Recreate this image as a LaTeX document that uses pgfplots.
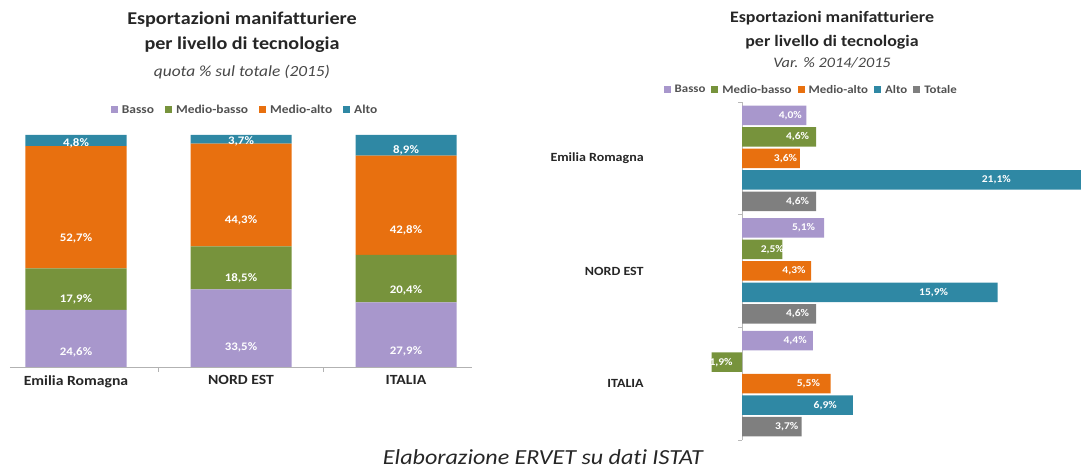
\documentclass[border=0pt]{standalone}
\usepackage{pgfplots}
\pgfplotsset{compat=1.18}
\usepackage{fontspec}
\setmainfont{Carlito}[FakeStretch=1.12, Ligatures=NoCommon]
\definecolor{cBasso}{HTML}{A897CC}
\definecolor{cMB}{HTML}{77933C}
\definecolor{cMA}{HTML}{E8700F}
\definecolor{cAlto}{HTML}{2F88A4}
\definecolor{cTot}{HTML}{7F7F7F}
\definecolor{txt}{HTML}{262626}
\begin{document}
\begin{tikzpicture}
\useasboundingbox (0pt,0pt) rectangle (1081pt,468pt);
% titles
\node[font=\bfseries\fontsize{18}{21}\selectfont, text=txt] at (242pt,448pt) {Esportazioni manifatturiere};
\node[font=\bfseries\fontsize{18}{21}\selectfont, text=txt] at (242pt,423pt) {per livello di tecnologia};
\node[font=\itshape\fontsize{15.5}{18}\selectfont, text=txt!85] at (242pt,396pt) {quota \% sul totale (2015)};
\node[font=\bfseries\fontsize{16}{19}\selectfont, text=txt] at (832pt,450pt) {Esportazioni manifatturiere};
\node[font=\bfseries\fontsize{16}{19}\selectfont, text=txt] at (832pt,426pt) {per livello di tecnologia};
\node[font=\itshape\fontsize{14.5}{17}\selectfont, text=txt!85] at (832pt,405pt) {Var. \% 2014/2015};
\node[font=\itshape\fontsize{21.5}{24}\selectfont, text=txt] at (543pt,11pt) {Elaborazione ERVET su dati ISTAT};

% left stacked chart
\begin{axis}[
  at={(10pt,101pt)}, anchor=south west, scale only axis,
  width=462pt, height=232pt,
  ybar stacked, bar width=101pt,
  xmin=-0.4, xmax=2.4, ymin=0, ymax=100,
  axis x line*=bottom, axis y line=none,
  x axis line style={draw=gray!60, line width=0.8pt},
  xtick={0,1,2}, xticklabels={Emilia Romagna,NORD EST,ITALIA},
  major tick length=0pt,
  extra x ticks={0.5,1.5}, extra x tick labels={},
  extra x tick style={major tick length=5pt, tick align=outside, tick style={draw=gray!60, line width=0.8pt}},
  xticklabel style={font=\bfseries\fontsize{14}{16}\selectfont, text=txt, yshift=-5pt},
  legend style={at={(0.509,1.108)}, anchor=center, draw=none, fill=none,
    font=\bfseries\fontsize{12}{14}\selectfont, text=txt!80,
    /tikz/every odd column/.append style={column sep=2pt},
    /tikz/every even column/.append style={column sep=9pt}},
  legend columns=-1,
  legend image code/.code={\fill[#1] (0pt,-3.5pt) rectangle (7pt,3.5pt);},
  visualization depends on={rawy \as \rawy},
  nodes near coords={\pgfmathprintnumber[fixed,fixed zerofill,precision=1,use comma,assume math mode=true]{\rawy}\%},
  every node near coord/.append style={anchor=center, yshift={-0.58pt*\rawy}, font=\bfseries\fontsize{11.5}{13}\selectfont, text=white},
]
\addplot[fill=cBasso, draw=none] coordinates {(0,24.6) (1,33.5) (2,27.9)};
\addplot[fill=cMB, draw=none] coordinates {(0,17.9) (1,18.5) (2,20.4)};
\addplot[fill=cMA, draw=none] coordinates {(0,52.7) (1,44.3) (2,42.8)};
\addplot[fill=cAlto, draw=none] coordinates {(0,4.8) (1,3.7) (2,8.9)};
\legend{Basso,Medio-basso,Medio-alto,Alto}
\end{axis}

% right horizontal bar chart
\begin{axis}[
  at={(694pt,28pt)}, anchor=south west, scale only axis,
  width=387pt, height=338pt,
  xbar, bar width=19.5pt,
  xmin=-3, xmax=21.1, ymin=-0.5, ymax=2.5,
  axis x line=none, axis y line=center,
  y axis line style={-, draw=gray!55, line width=0.8pt},
  xtick=\empty,
  ytick={0,1,2}, yticklabels={ITALIA,NORD EST,Emilia Romagna},
  major tick length=0pt,
  extra y ticks={-0.5,0.5,1.5,2.5}, extra y tick labels={},
  extra y tick style={major tick length=4pt, tick align=outside, tick style={draw=gray!55, line width=0.8pt}},
  yticklabel style={font=\bfseries\fontsize{12.5}{14}\selectfont, text=txt, anchor=east, xshift=-95pt},
  legend style={at={(0.303,1.036)}, anchor=center, draw=none, fill=none,
    font=\bfseries\fontsize{11.5}{13}\selectfont, text=txt!80,
    /tikz/every odd column/.append style={column sep=2pt},
    /tikz/every even column/.append style={column sep=4pt}},
  legend columns=-1,
  legend image code/.code={\fill[#1] (0pt,-3.5pt) rectangle (7pt,3.5pt);},
  visualization depends on={rawx \as \rawx},
  nodes near coords={\pgfmathprintnumber[fixed,fixed zerofill,precision=1,use comma,assume math mode=true]{\rawx}\%},
  every node near coord/.append style={anchor=center, xshift={-4.015pt*\rawx}, font=\bfseries\fontsize{10.3}{12}\selectfont, text=white},
]
\addplot[fill=cBasso, draw=none, bar shift=43pt] coordinates {(4.0,2) (5.1,1) (4.4,0)};
\addplot[fill=cMB, draw=none, bar shift=21.5pt] coordinates {(4.6,2) (2.5,1) (-1.9,0)};
\addplot[fill=cMA, draw=none, bar shift=0pt] coordinates {(3.6,2) (4.3,1) (5.5,0)};
\addplot[fill=cAlto, draw=none, bar shift=-21.5pt] coordinates {(21.1,2) (15.9,1) (6.9,0)};
\addplot[fill=cTot, draw=none, bar shift=-43pt] coordinates {(4.6,2) (4.6,1) (3.7,0)};
\legend{Basso,Medio-basso,Medio-alto,Alto,Totale}
\end{axis}
\end{tikzpicture}
\end{document}
